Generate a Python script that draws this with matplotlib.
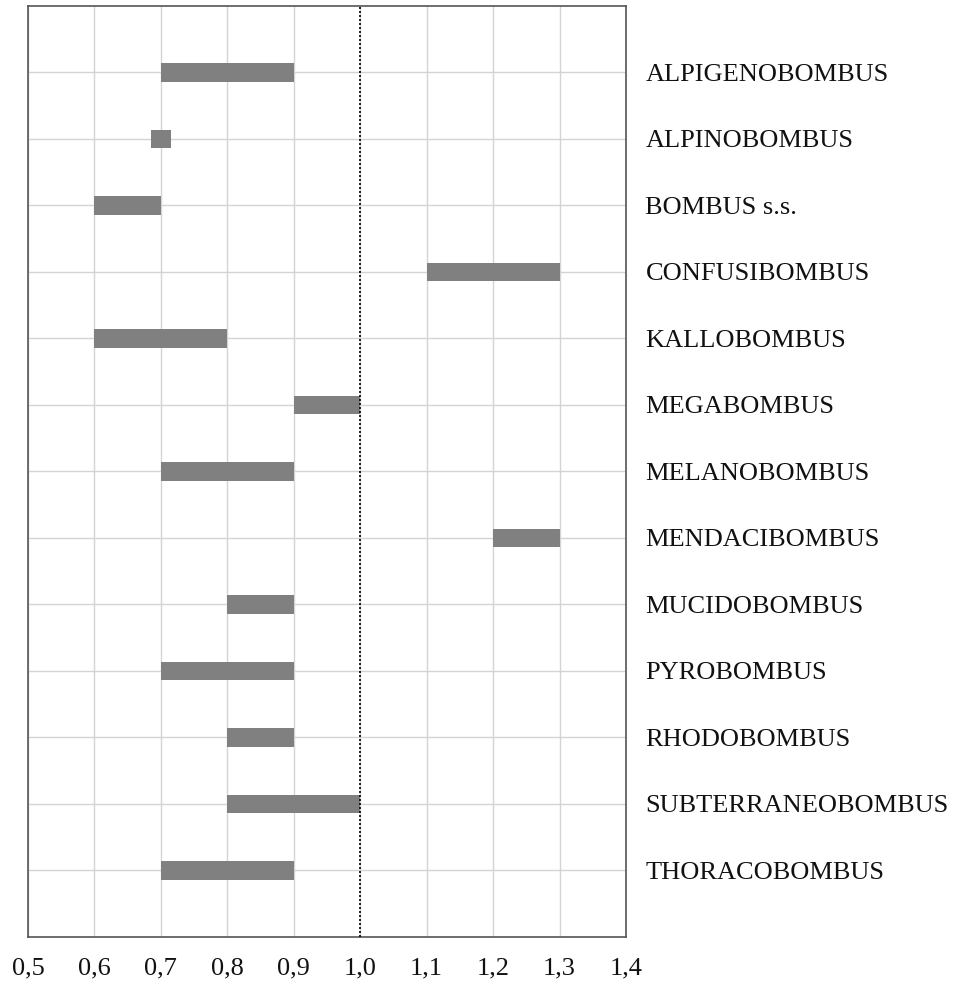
import matplotlib
matplotlib.use("Agg")
import matplotlib.pyplot as plt
import numpy as np

# subgenera and range of values (start, end)
subgenera = ["ALPIGENOBOMBUS", "ALPINOBOMBUS", "BOMBUS s.s.", "CONFUSIBOMBUS",
             "KALLOBOMBUS", "MEGABOMBUS", "MELANOBOMBUS", "MENDACIBOMBUS",
             "MUCIDOBOMBUS", "PYROBOMBUS", "RHODOBOMBUS", "SUBTERRANEOBOMBUS",
             "THORACOBOMBUS"]
range_start = [0.70, 0.685, 0.60, 1.10, 0.60, 0.90, 0.70, 1.20, 0.80, 0.70, 0.80, 0.80, 0.70]
range_end   = [0.90, 0.715, 0.70, 1.30, 0.80, 1.00, 0.90, 1.30, 0.90, 0.90, 0.90, 1.00, 0.90]

xticks = [0.5, 0.6, 0.7, 0.8, 0.9, 1.0, 1.1, 1.2, 1.3, 1.4]
xticklabels = ["0,5", "0,6", "0,7", "0,8", "0,9", "1,0", "1,1", "1,2", "1,3", "1,4"]

plt.rcParams['font.family'] = ['Liberation Serif', 'DejaVu Serif']

fig = plt.figure(figsize=(9.56, 9.84), dpi=100)
ax = fig.add_axes([0.0293, 0.0478, 0.6255, 0.9461])

ypos = np.arange(1, len(subgenera) + 1)
widths = np.array(range_end) - np.array(range_start)
ax.barh(ypos, widths, left=range_start, height=0.28, color='#808080', zorder=3)

# reference line at 1.0
ax.axvline(1.0, color='black', linestyle=(0, (1.2, 1.2)), lw=1.2, zorder=4)

ax.set_xlim(0.5, 1.4)
ax.set_ylim(14, 0)
ax.set_xticks(xticks)
ax.set_xticklabels(xticklabels, fontsize=19)
ax.set_yticks(ypos)
ax.set_yticklabels(subgenera, fontsize=19)
ax.yaxis.tick_right()
ax.tick_params(axis='y', length=0, pad=14, labelcolor='#111111')
ax.tick_params(axis='x', length=0, pad=15, labelcolor='#111111')

ax.grid(True, color='#d4d4d4', lw=1.0, zorder=0)
ax.set_axisbelow(True)
for s in ax.spines.values():
    s.set_color('#555555')
    s.set_linewidth(1.2)

plt.savefig("out.png", dpi=100)
plt.close()
